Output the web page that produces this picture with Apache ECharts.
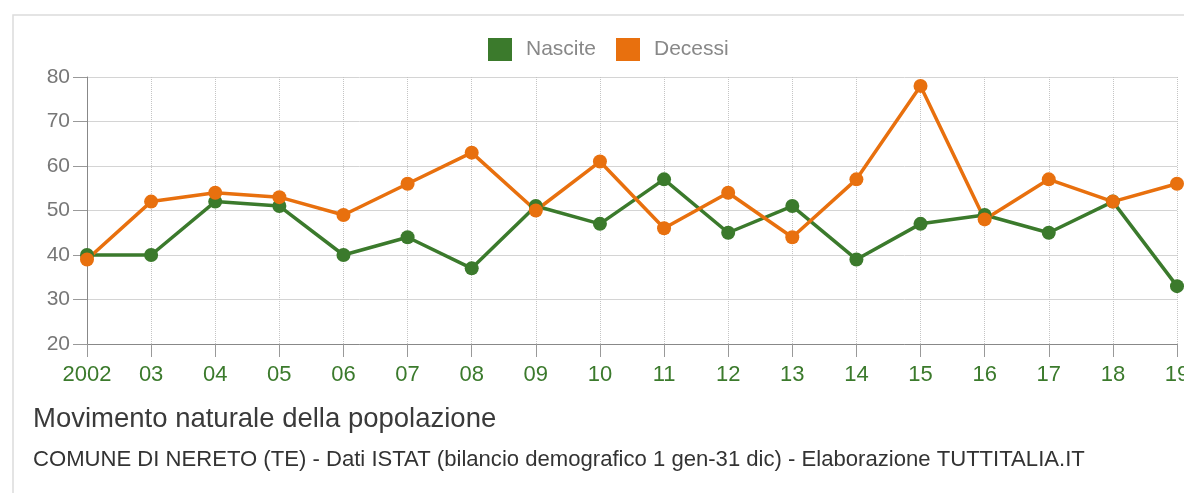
<!DOCTYPE html>
<html>
<head>
<meta charset="utf-8">
<script src="https://cdn.jsdelivr.net/npm/echarts@6/dist/echarts.min.js"></script>
<style>
  html, body { margin: 0; padding: 0; background: #fff; }
  #chart { width: 1184px; height: 493px; }
</style>
</head>
<body>
<div id="chart"></div>
<script>
// anni (asse x)
const anni = ['2002', '03', '04', '05', '06', '07', '08', '09', '10', '11', '12', '13', '14', '15', '16', '17', '18', '19']
// nati
const nascite = [40, 40, 52, 51, 40, 44, 37, 51, 47, 57, 45, 51, 39, 47, 49, 45, 52, 33]
// morti
const decessi = [39, 52, 54, 53, 49, 56, 63, 50, 61, 46, 54, 44, 57, 78, 48, 57, 52, 56]

const verde = '#3b7a2c'
const arancio = '#e8700e'
const font = 'Liberation Sans, Arial, sans-serif'

const chart = echarts.init(document.getElementById('chart'))
chart.setOption({
  animation: false,
  textStyle: { fontFamily: font },
  graphic: [
    {
      type: 'polyline',
      shape: { points: [[13, 493], [13, 15], [1184, 15]] },
      style: { stroke: '#dcdcdc', lineWidth: 1.5, fill: null }
    },
    {
      type: 'text',
      left: 33,
      top: 405,
      style: { text: 'Movimento naturale della popolazione', fill: '#3a3a3a', font: '27.5px ' + font }
    },
    {
      type: 'text',
      left: 33,
      top: 449,
      style: { text: 'COMUNE DI NERETO (TE) - Dati ISTAT (bilancio demografico 1 gen-31 dic) - Elaborazione TUTTITALIA.IT', fill: '#333', font: '22.1px ' + font }
    }
  ],
  legend: {
    top: 38,
    left: 488,
    padding: 0,
    itemWidth: 24,
    itemHeight: 23,
    itemGap: 20,
    icon: 'rect',
    textStyle: { color: '#888', fontSize: 21, padding: [0, 0, 0, 9] },
    data: ['Nascite', 'Decessi']
  },
  grid: {
    left: 87,
    right: 7,
    top: 77,
    bottom: 149,
    outerBoundsMode: 'none'
  },
  xAxis: {
    type: 'category',
    boundaryGap: false,
    data: anni,
    axisLine: { lineStyle: { color: '#888' } },
    axisTick: { show: true, length: 13, lineStyle: { color: '#999' } },
    axisLabel: { color: verde, fontSize: 22, margin: 20 },
    splitLine: { show: true, lineStyle: { color: '#c4c4c4', type: 'dotted' } }
  },
  yAxis: {
    type: 'value',
    min: 20,
    max: 80,
    interval: 10,
    axisLine: { show: true, lineStyle: { color: '#888' } },
    axisTick: { show: true, length: 14, lineStyle: { color: '#999' } },
    axisLabel: { color: '#777', fontSize: 21, margin: 17 },
    splitLine: { lineStyle: { color: '#d4d4d4' } }
  },
  series: [
    {
      name: 'Nascite',
      type: 'line',
      data: nascite,
      color: verde,
      symbol: 'circle',
      symbolSize: 14,
      lineStyle: { width: 3.5 }
    },
    {
      name: 'Decessi',
      type: 'line',
      data: decessi,
      color: arancio,
      symbol: 'circle',
      symbolSize: 14,
      lineStyle: { width: 3.5 }
    }
  ]
})
</script>
</body>
</html>
